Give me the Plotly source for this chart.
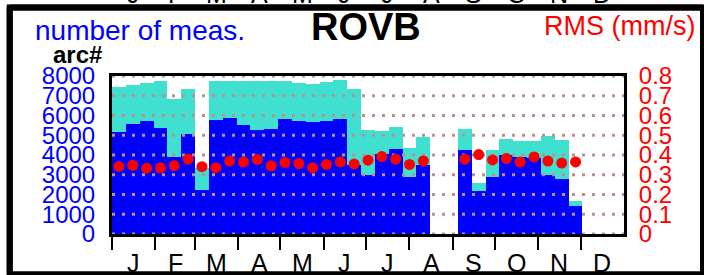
import plotly.graph_objects as go

# ---- data (37 ten-day bins across the year) ----
total_meas = [7440, 7560, 7660, 7730, 6820, 7350, 3350, 7730, 7760, 7770,
              7770, 7770, 7770, 7660, 7610, 7690, 7780, 7320, 5250, 5200,
              5420, 4360, 4910, None, None, 5300, 2590, 4240, 4830, 4700,
              4700, 4960, 4750, 1670, None, None, None]
blue_meas = [5170, 5590, 5720, 5380, 3900, 5050, 2220, 5790, 5850, 5505,
             5260, 5300, 5810, 5710, 5680, 5740, 5840, 3500, 2990, 4070,
             4290, 2890, 3490, None, None, 4240, 2170, 2890, 3990, 3900,
             3850, 3010, 2810, 1440, None, None, None]
rms = [0.342, 0.348, 0.333, 0.335, 0.346, 0.379, 0.341, 0.336, 0.369, 0.365,
       0.377, 0.345, 0.362, 0.357, 0.336, 0.352, 0.365, 0.355, 0.374, 0.392,
       0.379, 0.352, 0.370, None, None, 0.379, 0.402, 0.375, 0.382, 0.365,
       0.390, 0.369, 0.359, 0.365, None, None, None]

month_letters = ["J", "F", "M", "A", "M", "J", "J", "A", "S", "O", "N", "D"]
month_days = [31, 28, 31, 30, 31, 30, 31, 31, 30, 31, 30, 31]
left_ticks = [0, 1000, 2000, 3000, 4000, 5000, 6000, 7000, 8000]
right_ticks = [0, 0.1, 0.2, 0.3, 0.4, 0.5, 0.6, 0.7, 0.8]
right_ticktext = ["0", "0.1", "0.2", "0.3", "0.4", "0.5", "0.6", "0.7", "0.8"]
station = "ROVB"

# ---- derived positions ----
YEAR = 365
nbins = len(total_meas)
bw = YEAR / nbins
xc = [(i + 0.5) * bw for i in range(nbins)]
month_start = []
s = 0
for d in month_days:
    month_start.append(s)
    s += d
month_mid = [ms + d / 2 for ms, d in zip(month_start, month_days)]

FONT = "Liberation Sans, Arial, sans-serif"
BLUE = "#0000FF"
CYAN = "#40E0D0"
RED = "#FF0000"
GRID = "#BC8F8F"
CLEAR = "rgba(0,0,0,0)"

fig = go.Figure()
fig.add_trace(go.Bar(x=xc, y=total_meas, width=bw, marker=dict(color=CYAN, line=dict(width=0)),
                     hoverinfo="skip"))
fig.add_trace(go.Bar(x=xc, y=blue_meas, width=bw, marker=dict(color=BLUE, line=dict(width=0)),
                     hoverinfo="skip"))
# dotted grid over bars but under markers
gx, gy = [], []
for v in left_ticks:
    gx += [0, YEAR, None]
    gy += [v, v, None]
fig.add_trace(go.Scatter(x=gx, y=gy, mode="lines",
                         line=dict(color=GRID, width=3, dash="3px,7px"), hoverinfo="skip"))
fig.add_trace(go.Scatter(x=xc, y=rms, yaxis="y2", mode="markers",
                         marker=dict(color=RED, size=11, line=dict(width=0)), hoverinfo="skip"))

fig.update_layout(
    width=704, height=275,
    margin=dict(l=112, r=80, t=76, b=41, pad=0),
    paper_bgcolor="white", plot_bgcolor="white",
    showlegend=False, barmode="overlay", bargap=0,
    font=dict(family=FONT),
    xaxis=dict(range=[0, YEAR], tickvals=month_start, ticktext=[""] * 12,
               showticklabels=False, ticks="outside", ticklen=13, tickwidth=2,
               tickcolor="black", showline=True, linewidth=3, linecolor="black",
               mirror=True, showgrid=False, zeroline=False),
    yaxis=dict(range=[0, 8000], tickvals=left_ticks, ticks="outside", ticklen=9,
               tickcolor=CLEAR, tickfont=dict(color=BLUE, size=24, family=FONT),
               showgrid=False, zeroline=False, showline=True, linewidth=3,
               linecolor="black", mirror=True),
    yaxis2=dict(range=[0, 0.8], overlaying="y", side="right", tickvals=right_ticks,
                ticktext=right_ticktext, ticks="outside", ticklen=9, tickcolor=CLEAR,
                tickfont=dict(color=RED, size=24, family=FONT),
                showgrid=False, zeroline=False, showline=False),
)

def py(px):
    return (234 - px) / 158

def px_(x):
    return (x - 112) / 512

ann = []
for m, xm in zip(month_letters, month_mid):
    ann.append(dict(x=xm, y=py(263), xref="x", yref="paper", text=m, showarrow=False,
                    font=dict(size=25, color="black", family=FONT), xanchor="center", yanchor="middle"))
    ann.append(dict(x=xm, y=py(-6.5), xref="x", yref="paper", text=m, showarrow=False,
                    font=dict(size=25, color="black", family=FONT), xanchor="center", yanchor="middle"))
ann.append(dict(x=px_(33), y=py(30), xref="paper", yref="paper", text="number of meas.",
                showarrow=False, font=dict(size=28, color=BLUE, family=FONT),
                xanchor="left", yanchor="middle"))
ann.append(dict(x=px_(366), y=py(27), xref="paper", yref="paper", text="<b>" + station + "</b>",
                showarrow=False, font=dict(size=38, color="black", family=FONT),
                xanchor="center", yanchor="middle"))
ann.append(dict(x=px_(542), y=py(26), xref="paper", yref="paper", text="RMS (mm/s)",
                showarrow=False, font=dict(size=27, color=RED, family=FONT),
                xanchor="left", yanchor="middle"))
ann.append(dict(x=px_(77), y=py(55), xref="paper", yref="paper", text="<b>arc#</b>",
                showarrow=False, font=dict(size=24, color="black", family=FONT),
                xanchor="center", yanchor="middle"))
fig.update_layout(annotations=ann)

# outer frame (four thick lines)
FL, FR, FT, FB, FW = 9.7, 703.0, 7.5, 274.5, 6
fl, fr, ft, fb = px_(FL), px_(FR), py(FT), py(FB)
for x0, x1, y0, y1 in [(fl, fr, ft, ft), (fl, fr, fb, fb), (fl, fl, fb, ft), (fr, fr, fb, ft)]:
    fig.add_shape(type="line", xref="paper", yref="paper", x0=x0, x1=x1, y0=y0, y1=y1,
                  line=dict(color="black", width=FW), layer="above")

# same frame added on top of the page's top svg layer, in case the shape layer is hidden
frame_js = (
    "document.body.style.margin='0';document.body.style.overflow='hidden';"
    "var gd=document.getElementById('{plot_id}');"
    "var svgs=gd.getElementsByClassName('main-svg');"
    "var top=svgs[svgs.length-1];"
    "var r=document.createElementNS('http://www.w3.org/2000/svg','rect');"
    f"r.setAttribute('x','{FL}');r.setAttribute('y','{FT}');"
    f"r.setAttribute('width','{FR - FL}');r.setAttribute('height','{FB - FT}');"
    f"r.setAttribute('fill','none');r.setAttribute('stroke','black');r.setAttribute('stroke-width','{FW}');"
    "top.appendChild(r);"
)

fig.write_html("out.html", config={"displayModeBar": False}, post_script=frame_js)
